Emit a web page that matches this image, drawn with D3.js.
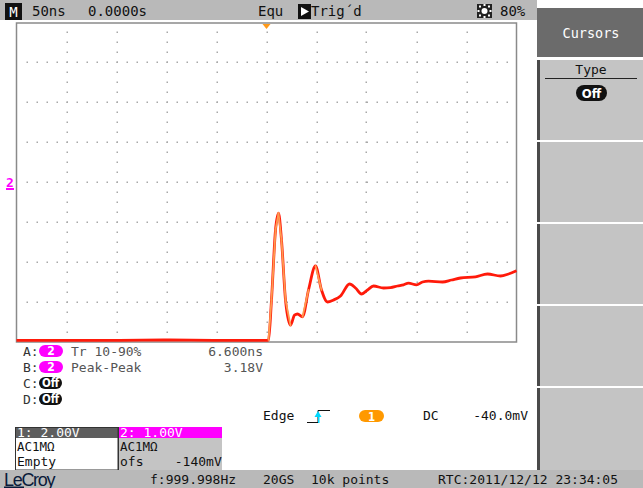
<!DOCTYPE html>
<html>
<head>
<meta charset="utf-8">
<script src="https://cdn.jsdelivr.net/npm/d3@7"></script>
<style>
  html, body { margin: 0; padding: 0; background: #ffffff; }
  svg { display: block; }
  text { font-family: "DejaVu Sans Mono", "Liberation Mono", monospace; white-space: pre; }
</style>
</head>
<body>
<script>
// Channel 2 capture: time (ns, trigger at 0) and voltage (V)
const timeNs = [-250, -200, -150, -100, -50, -10, 0, 2, 5, 9, 12, 15, 19, 24, 28, 31, 36, 42, 49, 55, 61, 67, 74, 83, 89, 95, 101, 107, 117, 124, 131, 137, 142, 150, 156, 162, 176, 185, 194, 209, 221, 234, 242, 250];
const voltsCh2 = [-3.96, -3.96, -3.96, -3.95, -3.96, -3.96, -3.96, -3.95, -2.95, -1.2, -0.78, -1.45, -2.95, -3.58, -3.33, -3.3, -3.37, -2.7, -2.1, -2.7, -3.0, -2.95, -2.85, -2.55, -2.65, -2.8, -2.7, -2.6, -2.65, -2.64, -2.6, -2.57, -2.53, -2.57, -2.5, -2.48, -2.5, -2.45, -2.4, -2.37, -2.3, -2.35, -2.3, -2.22];

// Screen setup
const timeDomainNs = [-250, 250];   // 50 ns/div x 10 div
const voltDomain = [-4, 4];         // 1.00 V/div x 8 div

// Readouts
const topBarLabels = [
  { text: "50ns", x: 32 },
  { text: "0.0000s", x: 88 },
  { text: "Equ", x: 258 },
  { text: "Trig\u00B4d", x: 311 },
  { text: "80%", x: 500 }
];
const measureRows = ["A:", "B:", "C:", "D:"];
const measureSource = ["2", "2", "Off", "Off"];
const measureNames = ["Tr 10-90%", "Peak-Peak", "", ""];
const measureValues = ["6.600ns", "3.18V", "", ""];
const ch1Lines = ["1: 2.00V", "AC1M\u03A9", "Empty"];
const ch2Lines = ["2: 1.00V", "AC1M\u03A9", "ofs    -140mV"];
const triggerLabels = { edge: "Edge", source: "1", coupling: "DC", level: "-40.0mV" };
const statusLabels = [
  { text: "f:999.998Hz", x: 150 },
  { text: "20GS", x: 263 },
  { text: "10k points", x: 311 },
  { text: "RTC:2011/12/12 23:34:05", x: 438 }
];
const menuTitle = "Cursors";
const menuType = "Type";
const menuState = "Off";

const W = 643, H = 488;
const svg = d3.select("body").append("svg").attr("width", W).attr("height", H);

const plot = { left: 16.5, right: 516.5, top: 22, bottom: 342 };
const x = d3.scaleLinear().domain(timeDomainNs).range([plot.left, plot.right]);
const y = d3.scaleLinear().domain(voltDomain).range([plot.bottom, plot.top]);

const barGray = "#b9b9b9";
const panelGray = "#c4c4c4";
const darkGray = "#6b6b6b";
const magenta = "#ff00ff";

// ---- top status bar
svg.append("rect").attr("x", 0).attr("y", 0).attr("width", 537).attr("height", 20).attr("fill", barGray);
svg.append("rect").attr("x", 5).attr("y", 3).attr("width", 17).attr("height", 17).attr("fill", "#111");
svg.append("text").attr("x", 13.5).attr("y", 17).attr("text-anchor", "middle")
  .attr("fill", "#fff").attr("font-size", 14).text("M");
svg.selectAll("text.topbar").data(topBarLabels).join("text")
  .attr("class", "topbar").attr("x", d => d.x).attr("y", 16)
  .attr("font-size", 14).attr("fill", "#111").text(d => d.text);
// trigger status arrow box
svg.append("rect").attr("x", 298).attr("y", 4).attr("width", 13).attr("height", 15).attr("fill", "#111");
svg.append("path").attr("d", "M301,7 L309,11.5 L301,16 Z").attr("fill", "#fff");
// intensity icon
svg.append("rect").attr("x", 477).attr("y", 4).attr("width", 15).attr("height", 14).attr("fill", "#222");
svg.append("circle").attr("cx", 484.5).attr("cy", 11).attr("r", 3).attr("fill", "#fff");
[[0, -6], [0, 6], [-6, 0], [6, 0], [-4.5, -4.5], [4.5, 4.5], [-4.5, 4.5], [4.5, -4.5]].forEach(([dx, dy]) => {
  svg.append("rect").attr("x", 484.5 + dx - 1).attr("y", 11 + dy - 1).attr("width", 2).attr("height", 2).attr("fill", "#fff");
});

// ---- right soft-key menu
svg.append("rect").attr("x", 537).attr("y", 8).attr("width", 106).attr("height", 49).attr("fill", darkGray);
svg.append("text").attr("x", 591).attr("y", 38).attr("text-anchor", "middle")
  .attr("fill", "#fff").attr("font-size", 13.5).text(menuTitle);
const panelTops = [60, 142, 224, 306, 388];
panelTops.forEach((t, i) => {
  const h = i === panelTops.length - 1 ? 82 : 80;
  svg.append("rect").attr("x", 537).attr("y", t).attr("width", 106).attr("height", h).attr("fill", panelGray);
  svg.append("rect").attr("x", 537).attr("y", t).attr("width", 3).attr("height", h).attr("fill", "#4a4a4a");
});
svg.append("text").attr("x", 591).attr("y", 74).attr("text-anchor", "middle")
  .attr("fill", "#111").attr("font-size", 13).text(menuType);
svg.append("line").attr("x1", 545).attr("x2", 637).attr("y1", 78.5).attr("y2", 78.5)
  .attr("stroke", "#222").attr("stroke-width", 1);
svg.append("rect").attr("x", 576).attr("y", 85).attr("width", 31).attr("height", 16).attr("rx", 8).attr("fill", "#111");
svg.append("text").attr("x", 591.5).attr("y", 98).attr("text-anchor", "middle")
  .attr("fill", "#fff").attr("font-size", 13).attr("font-weight", "bold")
  .style("font-family", "'DejaVu Sans Condensed', 'DejaVu Sans', sans-serif").text(menuState);

// ---- graticule
const g = svg.append("g");
g.append("rect").attr("x", plot.left).attr("y", plot.top + 1).attr("width", plot.right - plot.left)
  .attr("height", plot.bottom - plot.top - 1).attr("fill", "#fff")
  .attr("stroke", "#8a8a8a").attr("stroke-width", 1.5);
const divTimes = d3.range(timeDomainNs[0] + 50, timeDomainNs[1], 50);
const divVolts = d3.range(voltDomain[0] + 1, voltDomain[1], 1);
const dots = [];
divTimes.forEach(t => {
  for (let yy = plot.top + 10; yy < plot.bottom; yy += 10) dots.push([Math.round(x(t)), yy]);
});
divVolts.forEach(v => {
  for (let xx = plot.left + 10; xx < plot.right; xx += 10) dots.push([Math.round(xx), Math.round(y(v))]);
});
g.selectAll("rect.dot").data(dots).join("rect").attr("class", "dot")
  .attr("x", d => d[0] - 0.5).attr("y", d => d[1] - 0.5).attr("width", 1.5).attr("height", 1.5)
  .attr("fill", "#a8a8a8");

// trigger position marker
svg.append("path")
  .attr("d", `M${x(0) - 4},${plot.top + 2} L${x(0) + 4},${plot.top + 2} L${x(0)},${plot.top + 7} Z`)
  .attr("fill", "#ff9a1a");

// channel 2 ground marker
svg.append("text").attr("x", 10).attr("y", y(0) + 5).attr("text-anchor", "middle")
  .attr("fill", magenta).attr("font-size", 13).attr("font-weight", "bold").text("2");
svg.append("rect").attr("x", 6).attr("y", y(0) + 6).attr("width", 8).attr("height", 2).attr("fill", magenta);

// ---- trace
const pts = timeNs.map((t, i) => [x(t), y(voltsCh2[i])]);
const line = d3.line().curve(d3.curveMonotoneX);
svg.append("path").attr("d", line(pts)).attr("fill", "none")
  .attr("stroke", "#ff1a0a").attr("stroke-width", 2.8).attr("stroke-linejoin", "round");
// fast edges rendered in the lighter interpolation colour
for (let i = 0; i < pts.length - 1; i++) {
  const slope = Math.abs((pts[i + 1][1] - pts[i][1]) / (pts[i + 1][0] - pts[i][0]));
  if (slope > 3.5) {
    svg.append("path").attr("d", line(pts.slice(i, i + 2))).attr("fill", "none")
      .attr("stroke", "#ff9a50").attr("stroke-width", 1.8).attr("stroke-linecap", "round");
  }
}

// ---- measurement readouts
const rowY = [356, 372, 388, 404];
measureRows.forEach((r, i) => {
  svg.append("text").attr("x", 23).attr("y", rowY[i]).attr("font-size", 13).attr("fill", "#333").text(r);
  const isOff = measureSource[i] === "Off";
  svg.append("rect").attr("x", 39).attr("y", rowY[i] - 11).attr("width", isOff ? 23 : 24).attr("height", 12)
    .attr("rx", 6).attr("fill", isOff ? "#111" : magenta);
  svg.append("text").attr("x", isOff ? 50.5 : 51).attr("y", rowY[i] - 1).attr("text-anchor", "middle")
    .attr("font-size", isOff ? 11.5 : 12).attr("font-weight", "bold").attr("fill", "#fff")
    .style("font-family", "'DejaVu Sans Condensed', 'DejaVu Sans', sans-serif").text(measureSource[i]);
  if (measureNames[i]) {
    svg.append("text").attr("x", 71).attr("y", rowY[i]).attr("font-size", 13).attr("fill", "#555").text(measureNames[i]);
    svg.append("text").attr("x", 263).attr("y", rowY[i]).attr("text-anchor", "end")
      .attr("font-size", 13).attr("fill", "#555").text(measureValues[i]);
  }
});

// ---- trigger setup
svg.append("text").attr("x", 263).attr("y", 420).attr("font-size", 13).attr("fill", "#111").text(triggerLabels.edge);
svg.append("path").attr("d", "M307,422.5 L318,422.5 L318,410.5 L330,410.5").attr("fill", "none")
  .attr("stroke", "#111").attr("stroke-width", 1);
svg.append("path").attr("d", "M314.5,417 L318,411 L321.5,417 Z").attr("fill", "#00d8ff");
svg.append("rect").attr("x", 318).attr("y", 416).attr("width", 1.5).attr("height", 7).attr("fill", "#00d8ff");
svg.append("rect").attr("x", 359).attr("y", 410).attr("width", 25).attr("height", 12).attr("rx", 6).attr("fill", "#ff9900");
svg.append("text").attr("x", 371.5).attr("y", 420.5).attr("text-anchor", "middle").attr("font-size", 11.5)
  .attr("font-weight", "bold").attr("fill", "#fff")
  .style("font-family", "'DejaVu Sans Condensed', 'DejaVu Sans', sans-serif").text(triggerLabels.source);
svg.append("text").attr("x", 423).attr("y", 420).attr("font-size", 13).attr("fill", "#111").text(triggerLabels.coupling);
svg.append("text").attr("x", 528).attr("y", 420).attr("text-anchor", "end").attr("font-size", 13).attr("fill", "#111").text(triggerLabels.level);

// ---- channel descriptor boxes
function channelBox(x0, w, lines, headBg, bodyBg) {
  svg.append("rect").attr("x", x0).attr("y", 427).attr("width", w).attr("height", 11).attr("fill", headBg);
  svg.append("rect").attr("x", x0).attr("y", 438).attr("width", w).attr("height", 32).attr("fill", bodyBg);
  svg.append("text").attr("x", x0 + 2).attr("y", 437).attr("font-size", 13).attr("fill", "#fff").text(lines[0]);
  svg.append("text").attr("x", x0 + 2).attr("y", 451).attr("font-size", 12.5).attr("fill", "#111").text(lines[1]);
  svg.append("text").attr("x", x0 + 2).attr("y", 466).attr("font-size", 13).attr("fill", "#111").text(lines[2]);
}
channelBox(15, 103, ch1Lines, "#5e5e5e", "#ffffff");
channelBox(118, 104, ch2Lines, magenta, "#c4c4c4");
svg.append("rect").attr("x", 15.5).attr("y", 427.5).attr("width", 102.5).attr("height", 42.5)
  .attr("fill", "none").attr("stroke", "#333").attr("stroke-width", 1);
svg.append("line").attr("x1", 118.5).attr("x2", 118.5).attr("y1", 427).attr("y2", 470).attr("stroke", "#333");

// ---- bottom status bar
svg.append("rect").attr("x", 0).attr("y", 470).attr("width", W).attr("height", 18).attr("fill", barGray);
svg.append("text").attr("x", 4).attr("y", 485.5).attr("font-size", 18).attr("fill", "#0a1a3a")
  .attr("letter-spacing", -1.3)
  .style("font-family", "'Liberation Sans', Arial, sans-serif").text("LeCroy");
svg.append("rect").attr("x", 4).attr("y", 486.5).attr("width", 20).attr("height", 1.5).attr("fill", "#0a1a3a");
svg.selectAll("text.status").data(statusLabels).join("text")
  .attr("class", "status").attr("x", d => d.x).attr("y", 484)
  .attr("font-size", 13).attr("fill", "#111").text(d => d.text);
</script>
</body>
</html>
